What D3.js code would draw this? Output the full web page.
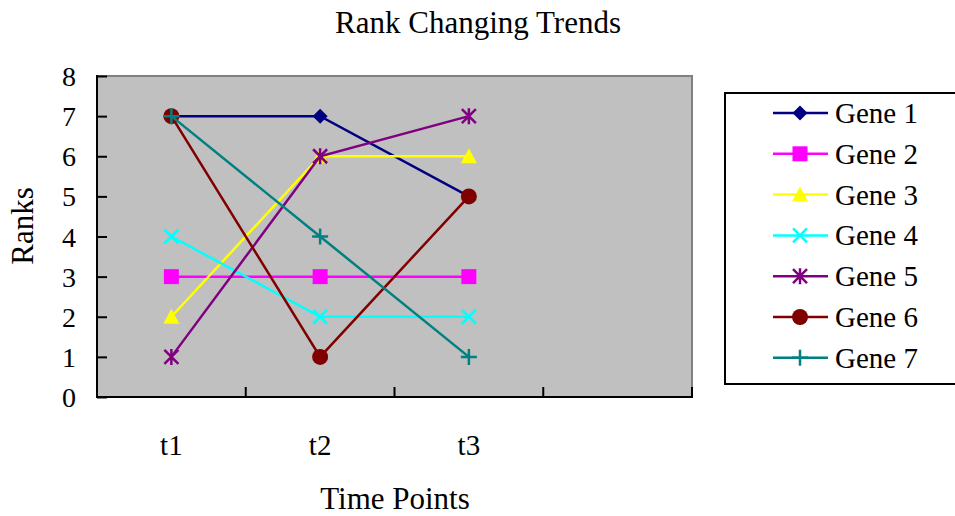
<!DOCTYPE html>
<html>
<head>
<meta charset="utf-8">
<script src="https://cdn.jsdelivr.net/npm/d3@7/dist/d3.min.js"></script>
<style>
  html, body { margin: 0; padding: 0; background: #fff; }
  svg { display: block; font-family: "Liberation Serif", "Times New Roman", serif; }
</style>
</head>
<body>
<svg id="chart" width="955" height="516"></svg>
<script>
// Time points on the category axis (one extra empty slot at the end)
const timePoints = ["t1", "t2", "t3"];
const slots = [...timePoints, ""];
const rankTicks = [0, 1, 2, 3, 4, 5, 6, 7, 8];

const geneNames = ["Gene 1", "Gene 2", "Gene 3", "Gene 4", "Gene 5", "Gene 6", "Gene 7"];
const gene1 = [7, 7, 5];
const gene2 = [3, 3, 3];
const gene3 = [2, 6, 6];
const gene4 = [4, 2, 2];
const gene5 = [1, 6, 7];
const gene6 = [7, 1, 5];
const gene7 = [7, 4, 1];
const geneValues = [gene1, gene2, gene3, gene4, gene5, gene6, gene7];

const geneColors = ["#000080", "#FF00FF", "#FFFF00", "#00FFFF", "#800080", "#800000", "#008080"];
const geneMarkers = ["diamond", "square", "triangle", "x", "star", "circle", "plus"];

const svg = d3.select("#chart");
const plot = { left: 97, right: 692, top: 76, bottom: 397 };

const x = d3.scaleBand().domain(slots).range([plot.left, plot.right]);
const y = d3.scaleLinear().domain([0, 8]).range([plot.bottom, plot.top]);
const cx = d => x(d) + x.bandwidth() / 2;

// Plot background and border
svg.append("rect")
  .attr("x", plot.left).attr("y", plot.top)
  .attr("width", plot.right - plot.left).attr("height", plot.bottom - plot.top)
  .attr("fill", "#C0C0C0").attr("stroke", "#808080").attr("stroke-width", 2);

// Y axis with inward ticks
const yAxis = svg.append("g")
  .attr("transform", `translate(${plot.left},0)`)
  .call(d3.axisRight(y).tickValues(rankTicks).tickSize(10).tickFormat(""));
yAxis.select(".domain").remove();
yAxis.selectAll(".tick line").attr("stroke", "#000").attr("stroke-width", 2);
svg.append("line")
  .attr("x1", plot.left).attr("x2", plot.left)
  .attr("y1", plot.top - 1).attr("y2", plot.bottom + 1)
  .attr("stroke", "#000").attr("stroke-width", 2);

svg.append("g").selectAll("text").data(rankTicks).join("text")
  .attr("x", 76).attr("y", d => y(d) + 10)
  .attr("text-anchor", "end").attr("font-size", 28)
  .text(d => d);

// X axis: ticks at slot boundaries, inward
const boundaries = slots.map(s => x(s)).concat([plot.right]);
svg.append("g").selectAll("line").data(boundaries).join("line")
  .attr("x1", d => d).attr("x2", d => d)
  .attr("y1", plot.bottom).attr("y2", plot.bottom - 10)
  .attr("stroke", "#000").attr("stroke-width", 2);
svg.append("line")
  .attr("x1", plot.left - 1).attr("x2", plot.right + 1)
  .attr("y1", plot.bottom).attr("y2", plot.bottom)
  .attr("stroke", "#000").attr("stroke-width", 2);

svg.append("g").selectAll("text").data(timePoints).join("text")
  .attr("x", d => cx(d)).attr("y", 455)
  .attr("text-anchor", "middle").attr("font-size", 29)
  .text(d => d);

// Titles
svg.append("text").attr("x", 478).attr("y", 33)
  .attr("text-anchor", "middle").attr("font-size", 31)
  .text("Rank Changing Trends");
svg.append("text").attr("x", 395).attr("y", 509)
  .attr("text-anchor", "middle").attr("font-size", 31)
  .text("Time Points");
svg.append("text")
  .attr("transform", "translate(33,226) rotate(-90)")
  .attr("text-anchor", "middle").attr("font-size", 31)
  .text("Ranks");

// Marker drawing
function drawMarker(g, type, color) {
  switch (type) {
    case "diamond":
      g.append("path").attr("d", "M0,-7.5L7.5,0L0,7.5L-7.5,0Z").attr("fill", color);
      break;
    case "square":
      g.append("rect").attr("x", -7.5).attr("y", -7.5).attr("width", 15).attr("height", 15).attr("fill", color);
      break;
    case "triangle":
      g.append("path").attr("d", "M0,-8L8,7L-8,7Z").attr("fill", color);
      break;
    case "circle":
      g.append("circle").attr("r", 8).attr("fill", color);
      break;
    case "x":
      g.append("path").attr("d", "M-7,-7L7,7M-7,7L7,-7").attr("stroke", color).attr("stroke-width", 2.5).attr("fill", "none");
      break;
    case "star":
      g.append("path").attr("d", "M-7,-7L7,7M-7,7L7,-7M0,-8L0,8").attr("stroke", color).attr("stroke-width", 2.5).attr("fill", "none");
      break;
    case "plus":
      g.append("path").attr("d", "M-8,0L8,0M0,-8L0,8").attr("stroke", color).attr("stroke-width", 2.5).attr("fill", "none");
      break;
  }
}

// Series lines and markers
const line = d3.line().x((d, i) => cx(timePoints[i])).y(d => y(d));
geneValues.forEach((vals, gi) => {
  const g = svg.append("g");
  g.append("path").datum(vals).attr("d", line)
    .attr("fill", "none").attr("stroke", geneColors[gi]).attr("stroke-width", 2.5);
  vals.forEach((v, i) => {
    const m = g.append("g").attr("transform", `translate(${cx(timePoints[i])},${y(v)})`);
    drawMarker(m, geneMarkers[gi], geneColors[gi]);
  });
});

// Legend
const legend = svg.append("g");
legend.append("rect").attr("x", 725).attr("y", 93).attr("width", 240).attr("height", 291)
  .attr("fill", "#fff").attr("stroke", "#000").attr("stroke-width", 2);
geneNames.forEach((name, gi) => {
  const ry = 113 + gi * 40.8;
  legend.append("line").attr("x1", 773).attr("x2", 828).attr("y1", ry).attr("y2", ry)
    .attr("stroke", geneColors[gi]).attr("stroke-width", 2.5);
  drawMarker(legend.append("g").attr("transform", `translate(800,${ry})`), geneMarkers[gi], geneColors[gi]);
  legend.append("text").attr("x", 835).attr("y", ry + 10).attr("font-size", 29).text(name);
});
</script>
</body>
</html>
